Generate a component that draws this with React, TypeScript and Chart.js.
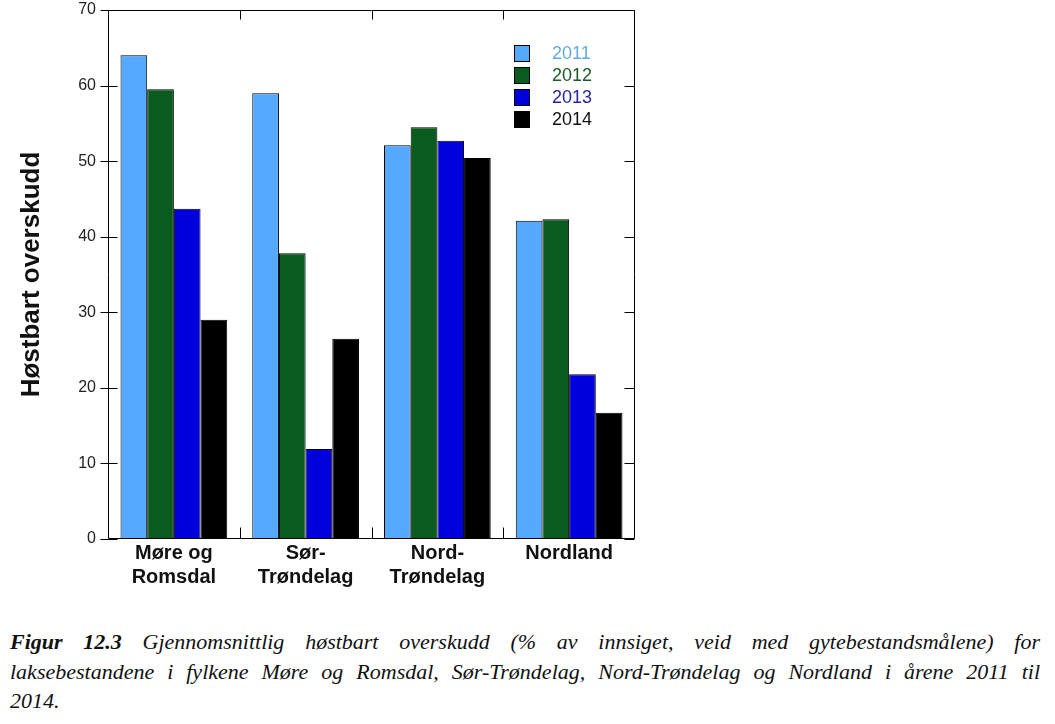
import React, { useEffect, useRef } from "react";
import { Chart, registerables } from "chart.js";

Chart.register(...registerables);

const categories: (string | string[])[] = [
  ["Møre og", "Romsdal"],
  ["Sør-", "Trøndelag"],
  ["Nord-", "Trøndelag"],
  "Nordland",
];
const years = ["2011", "2012", "2013", "2014"];
const values2011 = [64.0, 59.0, 52.1, 42.1];
const values2012 = [59.5, 37.8, 54.5, 42.3];
const values2013 = [43.7, 11.9, 52.7, 21.8];
const values2014 = [29.0, 26.5, 50.4, 16.7];
const yMin = 0;
const yMax = 70;
const yStep = 10;
const yTitle = "Høstbart overskudd";
const barColors = ["#55aaff", "#0a5c1e", "#0000dd", "#000000"];
const legendTextColors = ["#62a9ea", "#1c5a27", "#2424a6", "#111111"];

const captionLine1Bold = "Figur 12.3";
const captionLine1 =
  " Gjennomsnittlig høstbart overskudd (% av innsiget, veid med gytebestandsmålene) for";
const captionLine2 =
  "laksebestandene i fylkene Møre og Romsdal, Sør-Trøndelag, Nord-Trøndelag og Nordland i årene 2011 til";
const captionLine3 = "2014.";

const SANS = '"Liberation Sans", Arial, sans-serif';

const frameTicksPlugin = {
  id: "frameTicks",
  afterDatasetsDraw(chart: any) {
    const { ctx, chartArea } = chart;
    const xs = chart.scales.x;
    const ys = chart.scales.y;
    const L = Math.round(chartArea.left) + 0.5;
    const R = Math.round(chartArea.right) - 0.5;
    const T = Math.round(chartArea.top) + 0.5;
    const B = Math.round(chartArea.bottom) - 0.5;
    ctx.save();
    ctx.strokeStyle = "#000";
    ctx.lineWidth = 1;
    ctx.beginPath();
    ctx.rect(L, T, R - L, B - T);
    ys.ticks.forEach((t: any) => {
      const y = Math.round(ys.getPixelForValue(t.value)) + 0.5;
      ctx.moveTo(L - 8, y);
      ctx.lineTo(L + 9, y);
      ctx.moveTo(R - 10, y);
      ctx.lineTo(R, y);
    });
    for (let i = 1; i < categories.length; i++) {
      const x =
        Math.round((xs.getPixelForTick(i - 1) + xs.getPixelForTick(i)) / 2) + 0.5;
      ctx.moveTo(x, B);
      ctx.lineTo(x, B - 11);
      ctx.moveTo(x, T);
      ctx.lineTo(x, T + 9);
    }
    ctx.stroke();
    ctx.restore();
  },
};

const legendPlugin = {
  id: "insideLegend",
  afterDraw(chart: any) {
    const { ctx, chartArea } = chart;
    const x0 = Math.round(chartArea.right) - 121;
    const y0 = Math.round(chartArea.top) + 35;
    ctx.save();
    ctx.font = `18px ${SANS}`;
    ctx.textBaseline = "middle";
    ctx.textAlign = "left";
    chart.data.datasets.forEach((ds: any, i: number) => {
      const y = y0 + i * 22;
      ctx.fillStyle = ds.backgroundColor;
      ctx.fillRect(x0, y, 16, 17);
      ctx.strokeStyle = "#000";
      ctx.lineWidth = 1;
      ctx.strokeRect(x0 + 0.5, y + 0.5, 15, 16);
      ctx.fillStyle = legendTextColors[i];
      ctx.fillText(ds.label, x0 + 38, y + 9);
    });
    ctx.restore();
  },
};

export default function App() {
  const canvasRef = useRef<HTMLCanvasElement | null>(null);

  useEffect(() => {
    if (!canvasRef.current) return;
    const series = [values2011, values2012, values2013, values2014];
    const chart = new Chart(canvasRef.current, {
      type: "bar",
      data: {
        labels: categories as any,
        datasets: years.map((yr, i) => ({
          label: yr,
          data: series[i],
          backgroundColor: barColors[i],
          borderColor: "#000",
          borderWidth: 1,
          categoryPercentage: 0.81,
          barPercentage: 1.0,
        })),
      },
      options: {
        responsive: false,
        animation: false,
        layout: { padding: { left: 16, top: 0, right: 25, bottom: 0 } },
        plugins: {
          legend: { display: false },
          tooltip: { enabled: false },
          title: { display: false },
        },
        scales: {
          x: {
            type: "category",
            grid: { display: false, drawTicks: false },
            border: { display: false },
            ticks: {
              font: { family: SANS, size: 20, weight: "bold", lineHeight: 24 / 20 },
              color: "#111",
              padding: 2,
              maxRotation: 0,
              minRotation: 0,
              autoSkip: false,
            },
            afterFit: (s: any) => {
              s.height = 70;
            },
          },
          y: {
            min: yMin,
            max: yMax,
            grid: { display: false, drawTicks: false },
            border: { display: false },
            ticks: {
              stepSize: yStep,
              font: { family: SANS, size: 16 },
              color: "#222",
              padding: 12,
            },
            title: {
              display: true,
              text: yTitle,
              font: { family: SANS, size: 26, weight: "bold" },
              color: "#111",
              padding: 0,
            },
            afterFit: (s: any) => {
              s.width = 92;
              s.paddingTop = 10;
            },
          },
        },
      } as any,
      plugins: [frameTicksPlugin, legendPlugin],
    });
    return () => chart.destroy();
  }, []);

  const lineStyle: React.CSSProperties = {
    textAlign: "justify",
    textAlignLast: "justify",
    whiteSpace: "normal",
  };

  return (
    <div
      style={{
        position: "absolute",
        left: 0,
        top: 0,
        width: 1055,
        height: 724,
        background: "#fff",
        overflow: "hidden",
      }}
    >
      <canvas
        ref={canvasRef}
        width={660}
        height={609}
        style={{ position: "absolute", left: 0, top: 0, width: 660, height: 609 }}
      />
      <div
        style={{
          position: "absolute",
          left: 10,
          top: 627,
          width: 1030,
          fontFamily: '"Liberation Serif", "Times New Roman", serif',
          fontStyle: "italic",
          fontSize: 22,
          lineHeight: "29.5px",
          color: "#111",
        }}
      >
        <div style={lineStyle}>
          <b>{captionLine1Bold}</b>
          {captionLine1}
        </div>
        <div style={lineStyle}>{captionLine2}</div>
        <div>{captionLine3}</div>
      </div>
    </div>
  );
}
